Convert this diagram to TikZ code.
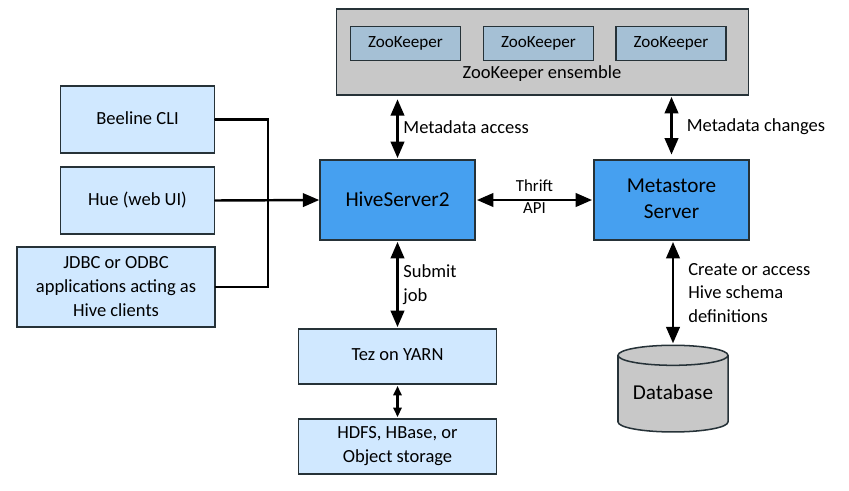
\documentclass[tikz,border=0pt]{standalone}
\usepackage{fontspec}
\setmainfont{Carlito}
\usetikzlibrary{arrows.meta}
\usetikzlibrary{shapes.geometric}
\definecolor{clientblue}{HTML}{D0E8FF}
\definecolor{serverblue}{HTML}{46A0F0}
\definecolor{zkblue}{HTML}{A5C0D5}
\definecolor{zkgray}{HTML}{C8C8C8}
\definecolor{edgeink}{HTML}{263238}
\newcommand{\upby}[2]{\raisebox{#1}{#2}}
\tikzset{
	box/.style={draw=edgeink,line width=1.3pt,inner sep=0pt,align=center,font=\fontsize{15.8}{20.5}\selectfont},
	client/.style={box,fill=clientblue},
	server/.style={box,fill=serverblue,font=\fontsize{18.1}{22}\selectfont},
	zk/.style={box,fill=zkblue,minimum width=3.31cm,minimum height=1.02cm,font=\fontsize{14.6}{20}\selectfont},
	link/.style={line width=2.1pt,line cap=round},
	both/.style={link,{Triangle[length=14pt,width=11.5pt]}-{Triangle[length=14pt,width=11.5pt]}},
	tolabel/.style={align=left,inner sep=0pt,font=\fontsize{15.8}{20}\selectfont},
}
\begin{document}
\begin{tikzpicture}[x=0.03cm,y=-0.03cm]
	\useasboundingbox (0,0) rectangle (849,490);
%	zookeeper
	\node [box,fill=zkgray,minimum width=12.36cm,minimum height=2.58cm] (ensemble) at (542.5,52) {};
	\node [zk] (zk1) at (405.5,43.5) {ZooKeeper};
	\node [zk] (zk2) at (538.5,43.5) {ZooKeeper};
	\node [zk] (zk3) at (671,43.5) {ZooKeeper};
	\node [font=\fontsize{15.8}{20}\selectfont,inner sep=0pt] (ensname) at (542,74) {ZooKeeper ensemble};
%	clients
	\node [client,minimum width=4.62cm,minimum height=2cm] (beeline) at (137.5,119.5) {\upby{2.5pt}{Beeline CLI}};
	\node [client,minimum width=4.62cm,minimum height=2cm] (hue) at (137.5,200.5) {\upby{1pt}{Hue (web UI)}};
	\node [client,minimum width=5.94cm,minimum height=2.4cm] (jdbc) at (116,287) {\upby{1.5pt}{JDBC or ODBC}\\\upby{1.5pt}{applications acting as}\\\upby{1.5pt}{Hive clients}};
%	servers
	\node [server,minimum width=4.65cm,minimum height=2.4cm] (hive) at (397.5,200) {\upby{2pt}{HiveServer2}};
	\node [server,minimum width=4.65cm,minimum height=2.4cm] (meta) at (671.5,200) {\upby{2.5pt}{Metastore}\\\upby{2.5pt}{Server}};
%	storage
	\node [client,minimum width=5.94cm,minimum height=1.65cm] (tez) at (397.5,356.5) {\upby{2.5pt}{Tez on YARN}};
	\node [client,minimum width=5.94cm,minimum height=1.65cm] (hdfs) at (397.5,446.5) {\upby{1pt}{HDFS, HBase, or}\\\upby{1pt}{Object storage}};
	\node [draw=edgeink,line width=1.3pt,fill=zkgray,cylinder,shape border rotate=90,aspect=0.25,
		minimum width=3.3cm,minimum height=2.6cm,inner sep=0pt,
		font=\fontsize{18.1}{20}\selectfont] (db) at (673,394) {\upby{2.5pt}{Database}};
%	client lines
	\coordinate (bus) at (268,200);
	\draw [link] (beeline.east) -| (bus);
	\draw [link] (jdbc.east) -| (bus);
	\draw [link,-{Triangle[length=14pt,width=11.5pt]}] (hue.east) -- (hive.west);
%	arrows with labels
	\draw [both,shorten <=1pt,shorten >=3pt] (hive.north) --
		node [right=4pt,tolabel,yshift=0.5pt] {Metadata access}
		(hive.north |- ensemble.south);
	\draw [both,shorten <=4pt,shorten >=1pt] (meta.north) --
		node [right=12pt,tolabel,yshift=0.5pt] {Metadata changes}
		(meta.north |- ensemble.south);
	\draw [both,shorten <=1pt,shorten >=1pt] (hive.east) --
		node [yshift=2.5pt,align=center,inner sep=0pt,font=\fontsize{14.4}{18.7}\selectfont] {Thrift\\API}
		(meta.west);
	\draw [both,shorten <=1pt,shorten >=1pt] (hive.south) --
		node [right=4pt,tolabel] {Submit\\job}
		(tez.north);
	\draw [both,shorten <=1pt,shorten >=1pt] (meta.south -| db.north) --
		node [right=12pt,tolabel,pos=0.5] {Create or access\\Hive schema\\definitions}
		(db.north);
	\draw [link,{Triangle[length=8pt,width=7pt]}-{Triangle[length=8pt,width=7pt]},shorten <=1pt,shorten >=1pt] (tez.south) -- (hdfs.north);
\end{tikzpicture}
\end{document}
